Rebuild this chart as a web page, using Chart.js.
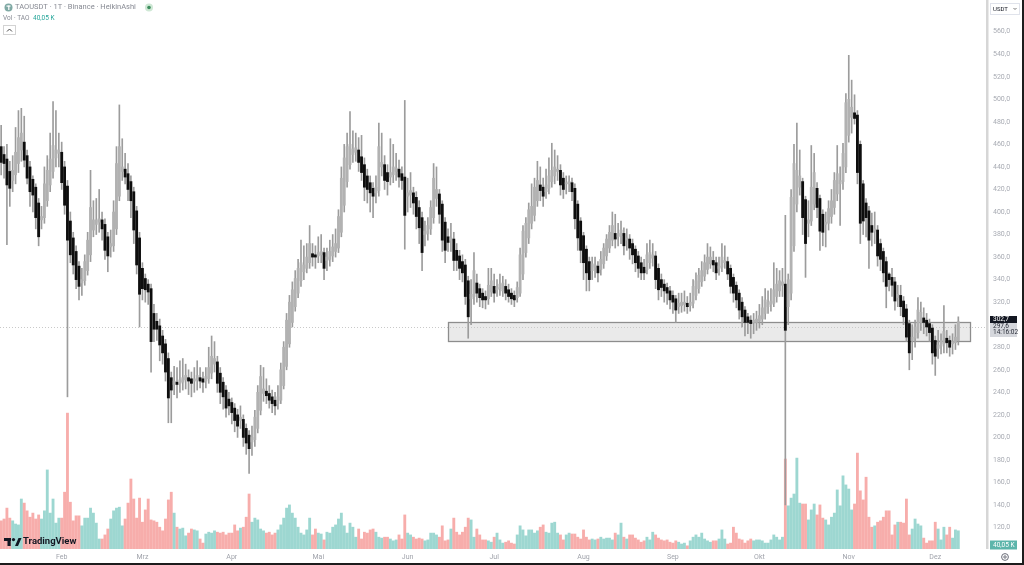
<!DOCTYPE html>
<html lang="de">
<head>
<meta charset="UTF-8">
<title>TAOUSDT · 1T · Binance · HeikinAshi</title>
<style>
    html, body { margin: 0; padding: 0; background: #fff; }
    #wrap { position: relative; width: 1024px; height: 565px; }
    canvas { display: block; }
</style>
</head>
<body>
<div id="wrap"><canvas id="chart" width="1024" height="565"></canvas></div>
<script src="https://cdn.jsdelivr.net/npm/chart.js"></script>
<script>
// one candle per day, index 0 = 11 Jan
const monthNames = ['Feb', 'Mrz', 'Apr', 'Mai', 'Jun', 'Jul', 'Aug', 'Sep', 'Okt', 'Nov', 'Dez'];
const monthDays = [21, 49, 80, 110, 141, 171, 202, 233, 263, 294, 324];
const priceTicks = [120, 140, 160, 180, 200, 220, 240, 260, 280, 300, 320, 340, 360, 380, 400, 420, 440, 460, 480, 500, 520, 540, 560];

const haOpen = [
    458,451,447,436,428,433,443,455,462,450, 440,429,422,408,393,395,410,424,436,448,
    452,453,440,423,392,377,365,352,337,339, 348,362,384,389,391,393,389,378,369,370,
    385,414,436,438,434,427,418,401,377,350, 341,336,332,310,303,299,290,283,270,253,
    247,249,248,249,251,253,252,250,251,253, 252,250,252,257,265,267,257,249,242,234,
    231,226,220,215,216,208,202,196,198,208, 224,239,241,239,236,233,230,233,246,263,
    283,302,316,328,339,347,350,355,363,362, 361,362,364,357,358,361,365,368,382,406,
    427,442,451,453,455,449,442,432,426,421, 417,419,440,442,435,431,433,436,438,434,
    431,414,415,417,413,404,395,380,381,385, 395,412,416,407,391,378,375,376,366,361,
    356,353,339,323,325,337,332,328,325,323, 329,334,331,332,330,334,331,328,326,324,
    328,345,364,377,390,397,410,424,422,418, 421,427,432,436,437,430,425,425,426,421,
    407,392,379,367,356,348,351,352,349,354, 361,368,375,381,378,379,381,375,376,372,
    367,361,355,351,349,355,359,361,350,340, 336,333,330,326,323,316,317,318,319,317,
    319,326,332,338,343,349,354,357,355,350, 351,355,356,350,342,335,328,320,313,307,
    304,302,302,303,305,310,316,318,319,325, 330,335,336,316,328,370,407,422,427,411,
    390,392,407,421,412,398,389,390,396,404, 416,425,427,440,468,484,488,486,460,425,
    408,401,388,383,384,372,365,356,345,342, 338,324,326,321,314,301,286,288,293,302,
    306,304,301,297,286,279,281,283,288,286, 283,284,286
];
const haClose = [
    444,443,424,421,437,453,466,470,446,430, 418,415,395,378,396,425,437,447,459,455,
    455,426,406,375,362,353,340,334,340,356, 375,404,393,393,394,385,366,361,372,400,
    443,458,440,431,420,410,384,353,327,332, 331,329,285,296,296,282,275,258,235,242,
    250,247,251,253,255,250,248,252,255,250, 249,254,262,272,270,248,240,236,226,228,
    222,215,210,218,200,195,190,200,218,240, 254,243,237,233,230,228,236,260,280,304,
    320,331,341,350,355,353,360,372,360,360, 364,365,350,360,365,369,372,396,430,448,
    458,460,456,457,444,435,422,420,417,414, 422,458,444,428,427,435,440,439,431,428,
    397,417,419,408,396,386,364,383,388,404, 430,420,398,375,366,373,377,357,357,350,
    346,325,307,327,348,328,324,322,322,335, 339,328,333,336,337,328,325,323,322,333,
    362,383,390,402,405,422,428,419,414,424, 432,437,440,438,424,420,426,427,418,394,
    377,366,355,346,340,354,353,346,358,368, 376,382,388,376,381,384,370,377,368,362,
    355,350,346,346,362,364,362,340,331,333, 330,328,322,320,313,319,320,320,316,320,
    334,339,344,348,355,360,360,353,346,352, 360,357,345,334,328,322,313,307,302,302,
    301,304,305,308,315,322,320,321,331,336, 339,338,295,340,413,443,437,432,395,372,
    393,422,435,404,383,382,391,403,410,428, 434,428,452,497,500,493,483,435,390,392,
    395,375,382,385,361,358,346,334,340,335, 321,327,316,307,289,275,289,298,313,311,
    302,298,293,275,272,282,286,294,284,280, 285,289,302.7
];
const haHigh = [
    477,458,460,445,450,475,490,492,485,455, 445,432,425,412,405,440,450,470,498,490,
    470,462,445,428,400,382,370,356,350,362, 382,437,410,412,420,400,394,382,384,410,
    458,495,465,452,443,432,422,405,382,355, 345,340,336,318,310,305,295,287,275,258,
    263,262,268,270,265,260,258,262,268,262, 258,262,280,290,285,272,262,253,246,240,
    235,230,225,228,220,212,206,210,224,246, 264,262,252,246,242,240,246,266,285,310,
    326,338,348,358,375,370,372,388,372,370, 378,380,368,368,375,380,385,402,440,460,
    470,489,472,470,466,468,448,438,432,426, 432,479,470,450,442,465,460,452,446,440,
    499,430,435,422,418,410,400,392,395,410, 443,440,420,410,395,385,390,382,372,366,
    362,358,343,340,364,345,336,332,330,350, 350,345,340,345,343,340,336,332,330,338,
    368,388,395,408,425,430,445,440,430,438, 448,461,455,450,442,435,432,432,430,425,
    410,395,382,370,360,360,360,356,365,372, 380,388,400,398,390,392,386,385,380,376,
    370,365,360,358,372,375,372,365,354,345, 340,337,334,330,326,328,328,330,325,328,
    340,346,350,356,362,372,369,365,360,360, 372,370,360,353,345,338,331,324,316,310,
    308,310,312,318,325,332,330,332,355,350, 348,350,397,345,420,460,479,455,430,414,
    410,459,452,426,415,402,400,410,420,435, 459,440,461,505,539,517,504,490,463,428,
    412,405,399,400,388,376,368,360,346,350, 342,335,335,325,318,304,300,304,324,320,
    315,310,305,300,290,295,292,317,295,290, 292,300,307
];
const haLow = [
    433,430,371,405,418,425,435,445,440,425, 405,400,385,370,385,390,405,418,430,440,
    440,420,398,236,355,345,332,322,326,335, 344,356,378,380,382,375,358,347,360,365,
    380,410,428,425,410,395,372,345,298,322, 320,318,258,285,286,268,265,250,213,213,
    238,235,240,242,243,238,236,240,242,244, 240,244,248,252,258,240,230,225,218,220,
    212,205,200,208,192,185,168,184,192,204, 220,232,230,226,222,220,225,230,243,260,
    280,298,312,324,334,340,346,350,352,350, 355,355,340,348,352,356,360,364,378,400,
    422,438,444,445,436,428,410,408,400,395, 408,414,432,420,415,424,426,428,422,420,
    367,400,404,398,385,372,348,370,375,380, 390,405,390,365,355,365,365,348,348,340,
    338,318,288,300,318,320,316,315,314,318, 325,320,325,326,325,322,320,318,316,320,
    325,340,360,372,385,392,405,410,405,412, 416,422,425,428,415,412,416,418,410,385,
    366,355,340,330,330,340,342,338,344,350, 357,364,370,368,370,372,362,366,358,354,
    347,342,340,340,345,350,352,332,322,325, 320,318,314,310,302,310,311,312,310,312,
    315,322,328,334,339,345,350,347,340,344, 347,350,340,328,320,315,305,298,290,292,
    288,292,295,297,300,305,310,312,316,320, 325,325,140,300,322,365,400,415,380,342,
    378,388,402,395,366,370,369,384,390,398, 410,388,420,435,462,470,478,425,372,380,
    378,350,370,372,352,348,338,315,330,325, 313,316,308,300,285,260,269,280,288,295,
    292,290,285,265,255,270,274,275,275,272, 274,278,282
];
// volume in thousand TAO
const volume = [
    62,66,90,68,62,55,53,110,101,84, 70,79,66,75,66,84,174,79,110,57,
    68,68,125,299,103,62,73,73,51,68, 68,90,79,57,22,22,31,44,66,84,
    90,92,51,66,101,154,110,68,112,59, 86,110,64,62,59,48,40,66,108,125,
    79,48,44,46,29,35,44,42,40,22, 13,33,37,35,40,37,35,37,31,35,
    35,53,40,46,48,70,121,59,68,64, 44,40,35,37,31,35,42,53,68,90,
    97,79,68,48,35,31,42,68,31,44, 35,33,20,37,35,48,53,66,79,51,
    35,57,48,26,44,22,37,35,42,44, 37,26,24,26,26,22,18,20,31,22,
    75,35,31,26,22,24,22,18,20,35, 35,31,26,51,18,20,44,68,37,31,
    37,48,68,64,26,44,31,20,20,18, 15,26,35,20,13,15,18,13,11,31,
    51,42,29,42,42,35,40,48,53,37, 35,57,59,35,31,20,31,35,33,33,
    26,22,42,26,20,22,20,22,26,22, 24,24,20,35,31,57,26,22,31,31,
    24,20,15,18,26,20,37,31,24,20, 18,20,15,13,18,15,11,13,7,18,
    26,31,26,35,22,18,15,18,18,22, 42,22,11,13,48,35,22,20,13,18,
    22,18,20,20,18,13,13,20,31,26, 20,26,198,95,112,121,200,101,99,99,
    64,86,99,75,97,68,64,53,70,79, 130,95,161,141,132,86,99,211,128,108,
    158,70,48,51,59,62,70,84,84,31, 53,59,59,57,110,31,44,66,55,51,
    24,13,18,18,59,44,20,48,31,48, 24,42,40.05
];

// drawn zone and last values
const zoneDays = [155, 336];
const zonePrices = [285.6, 302.4];
const lastPrice = 297.6;
const lastClose = 302.7;
const countdown = '14:16:02';
const lastVolumeText = '40,05 K';

const fmt = v => v.toFixed(1).replace('.', ',');
const isUp = haClose.map((c, i) => c >= haOpen[i]);

const FONT = 'Roboto, "Noto Sans", sans-serif';
Chart.defaults.font.family = FONT;

const decor = {
    id: 'decor',
    beforeDatasetsDraw(chart) {
        const { ctx, chartArea: a, scales: { x, y } } = chart;
        const x0 = x.getPixelForValue(zoneDays[0]);
        const x1 = x.getPixelForValue(zoneDays[1]);
        const y0 = y.getPixelForValue(zonePrices[1]);
        const y1 = y.getPixelForValue(zonePrices[0]);
        ctx.save();
        ctx.fillStyle = 'rgba(190,190,190,0.32)';
        ctx.fillRect(x0, y0, x1 - x0, y1 - y0);
        // last price line
        const py = Math.round(y.getPixelForValue(lastPrice)) + 0.5;
        ctx.strokeStyle = '#c9c9c9';
        ctx.lineWidth = 1;
        ctx.setLineDash([1, 2]);
        ctx.beginPath();
        ctx.moveTo(a.left, py);
        ctx.lineTo(a.right, py);
        ctx.stroke();
        ctx.setLineDash([]);
        ctx.strokeStyle = '#8d8d8d';
        ctx.lineWidth = 1.3;
        ctx.strokeRect(Math.round(x0) + 0.5, Math.round(y0) + 0.5, Math.round(x1 - x0), Math.round(y1 - y0));
        ctx.restore();
    },
    afterDraw(chart) {
        const { ctx: c, scales: { y } } = chart;
        c.save();
        // separator between plot and price scale
        c.fillStyle = '#d6d6d6';
        c.fillRect(986, 0, 2.5, 549);

        // legend top left
        c.textBaseline = 'middle';
        c.textAlign = 'left';
        c.fillStyle = '#7fa9a4';
        c.beginPath(); c.arc(8.5, 7.5, 4, 0, Math.PI * 2); c.fill();
        c.fillStyle = '#fff';
        c.fillRect(6.5, 5.5, 4, 1.2);
        c.fillRect(8.2, 5.5, 1.2, 4.5);
        c.font = '7.5px ' + FONT;
        c.fillStyle = '#878a93';
        c.fillText('TAOUSDT · 1T · Binance · HeikinAshi', 15, 7.5);
        c.fillStyle = '#cfe8d5';
        c.beginPath(); c.arc(149, 7.5, 4, 0, Math.PI * 2); c.fill();
        c.fillStyle = '#3e8e5e';
        c.beginPath(); c.arc(149, 7.5, 1.8, 0, Math.PI * 2); c.fill();

        c.font = '6.5px ' + FONT;
        c.fillStyle = '#878a93';
        c.fillText('Vol · TAO', 3, 18.5);
        c.fillStyle = '#26a69a';
        c.fillText(lastVolumeText, 33, 18.5);

        c.strokeStyle = '#d3d3d3';
        c.lineWidth = 1;
        c.strokeRect(3.5, 25.5, 12, 9);
        c.strokeStyle = '#444';
        c.beginPath(); c.moveTo(7, 31.5); c.lineTo(9.5, 29); c.lineTo(12, 31.5); c.stroke();

        // TradingView mark bottom left
        c.fillStyle = '#131722';
        c.fillRect(4, 538, 7, 3);
        c.fillRect(7.5, 538, 3.2, 8);
        c.beginPath(); c.arc(13.5, 539.6, 1.6, 0, Math.PI * 2); c.fill();
        c.beginPath(); c.moveTo(15, 546); c.lineTo(18.5, 538); c.lineTo(21.5, 538); c.lineTo(18, 546); c.closePath(); c.fill();
        c.font = 'bold 9.5px ' + FONT;
        c.fillText('TradingView', 23, 542);

        // price scale tags
        const yp = y.getPixelForValue(lastPrice);
        const gTop = Math.round(yp - 4.5);
        c.font = '6.5px ' + FONT;
        c.fillStyle = '#131722';
        c.fillRect(990, gTop - 7, 27, 7);
        c.fillStyle = '#ffffff';
        c.fillText(fmt(lastClose), 993, gTop - 3.3);
        c.fillStyle = '#d5d7dc';
        c.fillRect(990, gTop, 27, 14);
        c.fillStyle = '#2a2e39';
        c.fillText(fmt(lastPrice), 993, gTop + 3.8);
        c.fillText(countdown, 993, gTop + 9.8);

        c.fillStyle = '#5cb5ab';
        c.fillRect(990, 540.5, 27, 9);
        c.fillStyle = '#ffffff';
        c.fillText(lastVolumeText, 993, 545.2);

        // currency button
        c.strokeStyle = '#e0e3eb';
        c.strokeRect(990.5, 3.5, 29, 11);
        c.fillStyle = '#131722';
        c.font = '6px ' + FONT;
        c.fillText('USDT', 993, 9.2);
        c.strokeStyle = '#777';
        c.beginPath(); c.moveTo(1013.5, 8); c.lineTo(1015, 9.5); c.lineTo(1016.5, 8); c.stroke();

        // settings icon
        c.strokeStyle = '#6a6d78';
        c.beginPath(); c.arc(1005, 557, 3.4, 0, Math.PI * 2); c.stroke();
        c.beginPath(); c.arc(1005, 557, 1.2, 0, Math.PI * 2); c.stroke();

        // frame
        c.fillStyle = '#1c1c1c';
        c.fillRect(1022, 0, 2, 565);
        c.fillRect(0, 563, 1024, 2);
        c.restore();
    }
};

new Chart(document.getElementById('chart'), {
    type: 'bar',
    data: {
        datasets: [
            {
                label: 'Vol',
                yAxisID: 'yv',
                data: volume.map((v, i) => ({ x: i, y: v })),
                backgroundColor: isUp.map(u => u ? 'rgba(38,166,154,0.45)' : 'rgba(239,83,80,0.48)'),
                barThickness: 2.2,
                grouped: false,
                order: 3
            },
            {
                label: 'Docht',
                yAxisID: 'y',
                data: haLow.map((l, i) => ({ x: i, y: [l, haHigh[i]] })),
                backgroundColor: '#9c9c9c',
                barThickness: 1,
                grouped: false,
                order: 2
            },
            {
                label: 'Körper',
                yAxisID: 'y',
                data: haOpen.map((o, i) => ({ x: i, y: [o, haClose[i]] })),
                backgroundColor: isUp.map(u => u ? '#b2b2b2' : '#0e0e0e'),
                barThickness: 2.2,
                minBarLength: 1,
                grouped: false,
                order: 1
            }
        ]
    },
    options: {
        responsive: false,
        animation: false,
        devicePixelRatio: 1,
        events: [],
        layout: { padding: 0 },
        plugins: { legend: { display: false }, tooltip: { enabled: false } },
        scales: {
            x: {
                type: 'linear',
                offset: false,
                min: -0.4,
                max: 341.6,
                grid: { display: false, drawTicks: false },
                border: { display: false },
                afterBuildTicks: s => { s.ticks = monthDays.map(v => ({ value: v })); },
                afterFit: s => { s.height = 16; s.paddingLeft = 0; s.paddingRight = 0; },
                ticks: {
                    autoSkip: false,
                    maxRotation: 0,
                    padding: 4,
                    color: '#a0a3ab',
                    font: { size: 7 },
                    callback: v => monthNames[monthDays.indexOf(v)] || ''
                }
            },
            y: {
                position: 'right',
                min: 101,
                max: 588.1,
                grid: { display: false, drawTicks: false },
                border: { display: false },
                afterBuildTicks: s => { s.ticks = priceTicks.map(v => ({ value: v })); },
                afterFit: s => { s.width = 38; s.paddingTop = 0; s.paddingBottom = 0; },
                ticks: {
                    padding: 7,
                    color: '#a8abb3',
                    font: { size: 7 },
                    callback: v => fmt(v)
                }
            },
            yv: {
                display: false,
                min: 0,
                max: 1208
            }
        }
    },
    plugins: [decor]
});
</script>
</body>
</html>
